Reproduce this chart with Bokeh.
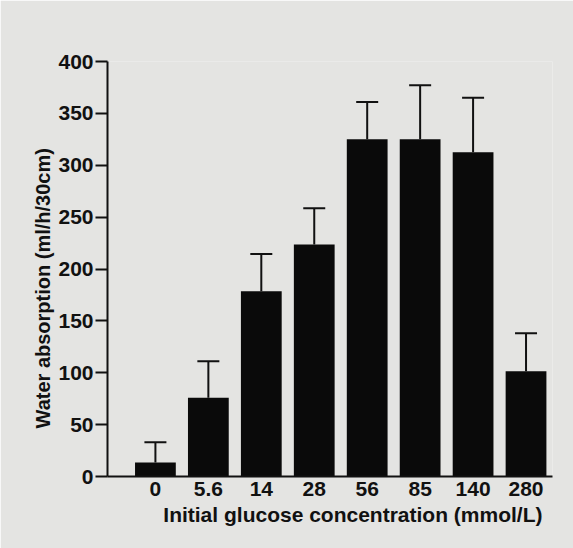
from bokeh.plotting import figure
from bokeh.models import ColumnDataSource, Whisker, TeeHead, FixedTicker, Range1d, Title
from bokeh.embed import file_html
from bokeh.resources import INLINE

categories = ["0", "5.6", "14", "28", "56", "85", "140", "280"]
absorption = [13.5, 76, 178.5, 223.5, 325, 325, 312.5, 101.5]
sem = [19.5, 35, 36, 35, 36, 52, 52.5, 36.5]
y_ticks = [0, 50, 100, 150, 200, 250, 300, 350, 400]

positions = list(range(len(categories)))
upper = [v + e for v, e in zip(absorption, sem)]
src = ColumnDataSource(dict(x=positions, top=absorption, upper=upper))

FONT = "Liberation Sans"
INK = "#111111"
BG = "#e4e4e2"

p = figure(width=573, height=548, output_backend="svg", toolbar_location=None,
           x_range=Range1d(-0.905, 7.5), y_range=Range1d(0, 400),
           min_border_left=107, min_border_right=21, min_border_top=61, min_border_bottom=72,
           background_fill_color=BG, border_fill_color=BG, outline_line_color=None)

p.vbar(x="x", top="top", width=0.77, bottom=0, source=src, fill_color="#0a0a0a", line_color=None)

w = Whisker(source=src, base="x", lower="top", upper="upper", dimension="height",
            line_color=INK, line_width=2,
            upper_head=TeeHead(size=22, line_color=INK, line_width=2), lower_head=None)
p.add_layout(w)

p.xgrid.visible = False
p.ygrid.visible = False

xa = p.xaxis[0]
xa.ticker = FixedTicker(ticks=positions)
xa.major_label_overrides = {i: c for i, c in zip(positions, categories)}
xa.major_tick_out = 0
xa.major_tick_in = 0
xa.minor_tick_out = 0
xa.minor_tick_in = 0
xa.axis_line_color = INK
xa.axis_line_width = 2
xa.major_label_standoff = 5
xa.major_label_text_font = FONT
xa.major_label_text_font_size = "21px"
xa.major_label_text_font_style = "bold"
xa.major_label_text_color = INK

ya = p.yaxis[0]
ya.ticker = FixedTicker(ticks=y_ticks)
ya.major_tick_out = 12
ya.major_tick_in = 0
ya.minor_tick_out = 0
ya.minor_tick_in = 0
ya.axis_line_color = INK
ya.axis_line_width = 2
ya.major_tick_line_color = INK
ya.major_tick_line_width = 2
ya.major_label_standoff = 2
ya.major_label_text_font = FONT
ya.major_label_text_font_size = "21px"
ya.major_label_text_font_style = "bold"
ya.major_label_text_color = INK

ty = Title(text="Water absorption (ml/h/30cm)", align="left", offset=48,
           text_font=FONT, text_font_size="20px", text_font_style="bold",
           text_color=INK, standoff=4)
p.add_layout(ty, "left")

tx = Title(text="Initial glucose concentration (mmol/L)", align="right", offset=10,
           text_font=FONT, text_font_size="21px", text_font_style="bold",
           text_color=INK, standoff=5)
p.add_layout(tx, "below")

open("out.html", "w").write(file_html(p, INLINE))
